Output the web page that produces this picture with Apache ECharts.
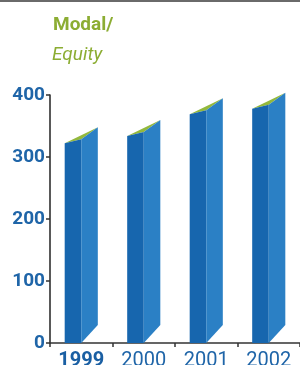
<!DOCTYPE html>
<html><head><meta charset="utf-8">
<script src="https://cdn.jsdelivr.net/npm/echarts@6/dist/echarts.min.js"></script>
<style>html,body{margin:0;padding:0;background:#fff}#c{width:300px;height:365px}</style>
</head><body><div id="c"></div>
<script>
const years = ['1999', '2000', '2001', '2002'];
const values = [322, 334, 369, 378];
const yTicks = [0, 100, 200, 300, 400];
const titleLine1 = 'Modal/';
const titleLine2 = 'Equity';

const FONT = 'Roboto,"Liberation Sans",sans-serif';
const BLUE_TXT = '#1f65a8';
const chart = echarts.init(document.getElementById('c'), null, {renderer: 'canvas'});

function renderItem(params, api) {
  const idx = api.value(0);
  const val = api.value(1);
  const top = api.coord([idx, val]);
  const base = api.coord([idx, 0]);
  const band = api.size([1, 0])[0];
  const W = band * 0.53;
  const w = W * 0.5;
  const x0 = top[0] - W / 2;
  const yT = top[1];
  const yB = base[1];
  const dyT = 16, dyB = 18, g = 4;
  const midTop = yT - dyT * w / W + g;
  return {
    type: 'group',
    children: [
      {type: 'polygon', shape: {points: [[x0, yT], [x0 + W, yT - dyT], [x0 + w, midTop]]},
        style: {fill: '#93b83c'}},
      {type: 'polygon', shape: {points: [[x0, yB], [x0, yT], [x0 + w, midTop], [x0 + w, yB]]},
        style: {fill: '#1766ae'}},
      {type: 'polygon', shape: {points: [[x0 + w, midTop], [x0 + W, yT - dyT], [x0 + W, yB - dyB], [x0 + w, yB]]},
        style: {fill: '#2b80c5'}}
    ]
  };
}

chart.setOption({
  animation: false,
  backgroundColor: '#fff',
  grid: {left: 50, right: 0, top: 95, bottom: 22, containLabel: false, outerBoundsMode: 'none'},
  graphic: [
    {type: 'rect', shape: {x: 0, y: 0, width: 300, height: 2}, style: {fill: '#6a6a6a'}},
    {type: 'text', left: 53, top: 16, style: {text: titleLine1, font: 'bold 19px ' + FONT, fill: '#8cad33'}},
    {type: 'text', left: 52, top: 46, style: {text: titleLine2, font: 'italic 19px ' + FONT, fill: '#8cad33'}}
  ],
  xAxis: {
    type: 'category', data: years, boundaryGap: true,
    axisLine: {lineStyle: {color: '#333', width: 1.5}},
    axisTick: {show: true, alignWithLabel: false, length: 4, lineStyle: {color: '#333', width: 1.5}},
    axisLabel: {
      interval: 0, margin: 8, color: BLUE_TXT, fontFamily: FONT, fontSize: 20,
      formatter: v => v === '1999' ? '{b|' + v + '}' : v,
      rich: {b: {fontWeight: 'bold', fontSize: 20, fontFamily: FONT, color: '#1a5fa3'}}
    }
  },
  yAxis: {
    type: 'value', min: yTicks[0], max: yTicks[yTicks.length - 1], interval: 100,
    splitLine: {show: false},
    axisLine: {show: true, lineStyle: {color: '#222', width: 1.5}},
    axisTick: {show: true, length: 4, lineStyle: {color: '#333', width: 1.5}},
    axisLabel: {margin: 5, color: BLUE_TXT, fontFamily: FONT, fontSize: 19, fontWeight: 'bold'}
  },
  series: [{
    type: 'custom', renderItem: renderItem,
    data: values.map((v, i) => [i, v]),
    encode: {x: 0, y: 1}
  }]
});
</script></body></html>
